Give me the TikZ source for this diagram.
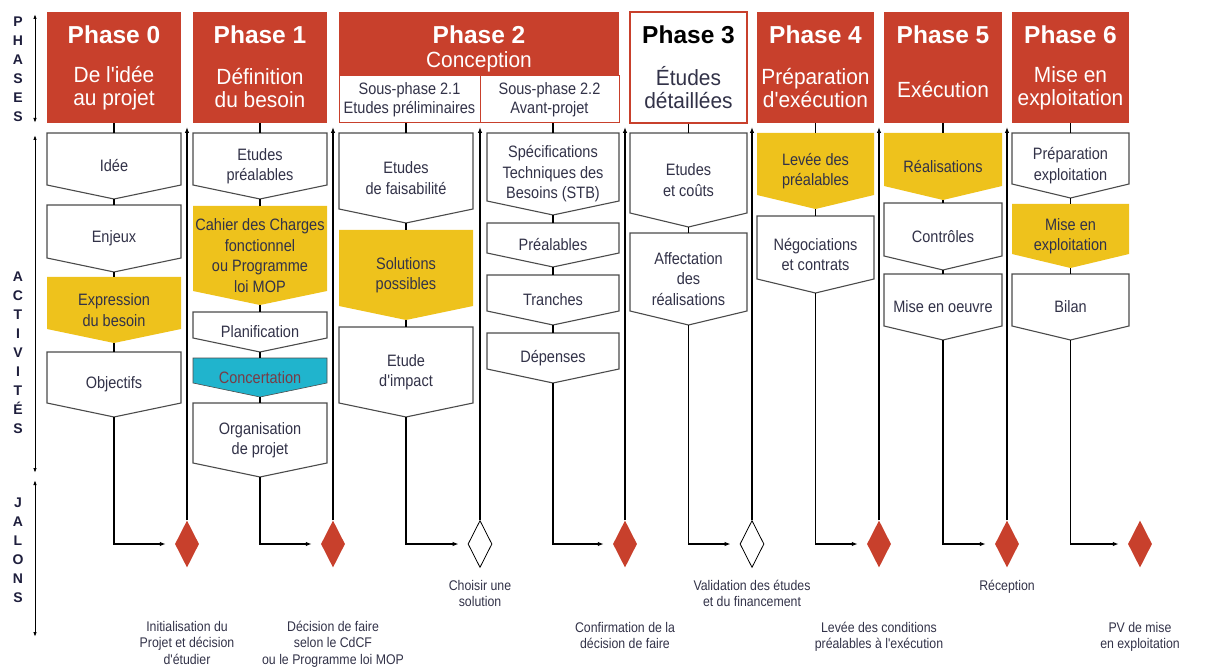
\documentclass[tikz,border=0pt]{standalone}
\usepackage{fontspec}
\setmainfont{Liberation Sans}
\newfontfamily\narrow[FakeStretch=0.88]{Liberation Sans}
\newfontfamily\headsub[FakeStretch=0.95]{Liberation Sans}
\usetikzlibrary{positioning,shapes.geometric,arrows.meta}
\definecolor{rouge}{RGB}{200,64,44}
\definecolor{jaune}{RGB}{238,194,28}
\definecolor{turquoise}{RGB}{32,180,205}
\definecolor{encre}{RGB}{50,50,72}
\definecolor{contour}{RGB}{75,75,75}
\definecolor{concert}{RGB}{120,60,70}
\definecolor{marine}{RGB}{30,30,60}

\begin{document}
\begin{tikzpicture}[x=1pt, y=1pt, >={Latex[length=6pt,width=4.5pt]},
    phasebox/.style={rectangle, fill=rouge, minimum height=111, inner sep=0},
    phtitle/.style={font=\bfseries\fontsize{24.5}{27}\selectfont, text=white, inner sep=0},
    phsub/.style={font=\headsub\fontsize{22}{23}\selectfont, text=white, align=center, inner sep=0},
    sousphase/.style={rectangle, draw=rouge, fill=white, line width=1pt, minimum height=47, inner sep=0,
                      align=center, font=\narrow\fontsize{16.5}{19}\selectfont, text=encre},
    boxblanc/.style={fill=white, draw=contour, line width=1.1pt},
    boxjaune/.style={fill=jaune},
    boxcyan/.style={fill=turquoise, draw=contour, line width=0.6pt},
    acttext/.style={rectangle, inner sep=0, align=center, font=\narrow\fontsize{16.5}{20.5}\selectfont, text=encre},
    link/.style={draw=black, line width=1.2pt},
    jalon/.style={diamond, minimum width=24, minimum height=47, inner sep=0},
    jalonplein/.style={jalon, fill=rouge},
    jalonvide/.style={jalon, fill=white, draw=black, line width=0.8pt},
    jaltext/.style={inner sep=0, align=center, font=\narrow\fontsize{14}{16.5}\selectfont, text=encre},
    axetext/.style={inner sep=0, align=center, font=\bfseries\fontsize{14}{19}\selectfont, text=marine},
    axe/.style={line width=1pt, <->, >={Latex[length=5pt,width=3.5pt]}}]
    \useasboundingbox (0,0) rectangle (1221,-668);

    % en-tetes des phases
    \foreach \i/\cx/\ww/\dy/\sub in {0/114/134/76.5/{De l'idée\\au projet},
                                     1/260/134/76.5/{Définition\\du besoin},
                                     4/815.5/117/76.5/{Préparation\\d'exécution},
                                     5/943/118/78/{Exécution},
                                     6/1070.5/117/76.5/{Mise en\\exploitation}}{
      \node[phasebox, minimum width=\ww] (h\i) at (\cx,-67.5) {};
      \node[phtitle] (h\i-t) at ([yshift=-23pt]h\i.north) {Phase \i};
      \node[phsub] (h\i-s) at ([yshift={-\dy}]h\i.north) {\sub};
    }
    \node[phasebox, minimum width=280, minimum height=64] (h2) at (479,-44) {};
    \node[phtitle] (h2-t) at ([yshift=-23pt]h2.north) {Phase 2};
    \node[phsub] (h2-s) at ([yshift=-50pt]h2.north) {Conception};
    \node[sousphase, minimum width=141] (sp1) at (409.5,-99.5) {Sous-phase 2.1\\Etudes préliminaires};
    \node[sousphase, minimum width=139] (sp2) at (549.5,-99.5) {Sous-phase 2.2\\Avant-projet};
    \node[phasebox, fill=white, draw=rouge, line width=1.2pt, minimum width=117] (h3) at (688.5,-67.5) {};
    \node[phtitle, text=black] (h3-t) at ([yshift=-23pt]h3.north) {Phase 3};
    \node[phsub, text=encre] (h3-s) at ([yshift=-76.5pt]h3.north) {Études\\détaillées};

    % activites
    \foreach \nm/\cx/\ww/\tp/\bt/\st/\txt in {
        p0a/114/134/133/199/boxblanc/{Idée},
        p0b/114/134/205/272/boxblanc/{Enjeux},
        p0c/114/134/277/343/boxjaune/{Expression\\du besoin},
        p0d/114/134/352/417/boxblanc/{Objectifs},
        p1a/260/134/133/199/boxblanc/{Etudes\\préalables},
        p1b/260/134/206/305/boxjaune/{Cahier des Charges\\fonctionnel\\ou Programme\\loi MOP},
        p1c/260/134/312/352/boxblanc/{Planification},
        p1d/260/134/358/397/boxcyan/{\textcolor{concert}{Concertation}},
        p1e/260/134/403/477/boxblanc/{Organisation\\de projet},
        p2a/406/134/133/223/boxblanc/{Etudes\\de faisabilité},
        p2b/406/134/230/320/boxjaune/{Solutions\\possibles},
        p2c/406/134/327/417/boxblanc/{Etude\\d'impact},
        p2d/553/132/133/215/boxblanc/{Spécifications\\Techniques des\\Besoins (STB)},
        p2e/553/132/223/267/boxblanc/{Préalables},
        p2f/553/132/275/325/boxblanc/{Tranches},
        p2g/553/132/333/383/boxblanc/{Dépenses},
        p3a/688.5/117/133/227/boxblanc/{Etudes\\et coûts},
        p3b/688.5/117/233/325/boxblanc/{Affectation\\des\\réalisations},
        p4a/815.5/117/133/209/boxjaune/{Levée des\\préalables},
        p4b/815.5/117/216/293/boxblanc/{Négociations\\et contrats},
        p5a/943/118/133/200/boxjaune/{Réalisations},
        p5b/943/118/203/270/boxblanc/{Contrôles},
        p5c/943/118/274/340/boxblanc/{Mise en oeuvre},
        p6a/1070.5/117/133/198/boxblanc/{Préparation\\exploitation},
        p6b/1070.5/117/204/268/boxjaune/{Mise en\\exploitation},
        p6c/1070.5/117/274/340/boxblanc/{Bilan}}{
      \path[\st] ({\cx-\ww/2},-\tp) -- ({\cx+\ww/2},-\tp) -- ({\cx+\ww/2},{14-\bt})
                 -- (\cx,-\bt) -- ({\cx-\ww/2},{14-\bt}) -- cycle;
      \node[acttext, minimum width=\ww, minimum height={\bt-\tp}] (\nm) at (\cx,{-(\tp+\bt)/2}) {\txt};
    }
    \foreach \a/\b in {h0/p0a,p0a/p0b,p0b/p0c,p0c/p0d,
                       h1/p1a,p1a/p1b,p1b/p1c,p1c/p1d,p1d/p1e,
                       sp1/p2a,p2a/p2b,p2b/p2c,
                       sp2/p2d,p2d/p2e,p2e/p2f,p2f/p2g,
                       h3/p3a,p3a/p3b, h4/p4a,p4a/p4b,
                       h5/p5a,p5a/p5b,p5b/p5c, h6/p6a,p6a/p6b,p6b/p6c}
      \draw[link] (\b.north |- \a.south) -- (\b.north);

    % jalons
    \node[jalonplein] (d0) at (187,-544) {};
    \node[jalonplein] (d1) at (333,-544) {};
    \node[jalonvide]  (d2) at (480,-544) {};
    \node[jalonplein] (d3) at (625,-544) {};
    \node[jalonvide]  (d4) at (752,-544) {};
    \node[jalonplein] (d5) at (879,-544) {};
    \node[jalonplein] (d6) at (1007,-544) {};
    \node[jalonplein] (d7) at (1140,-544) {};
    \foreach \k/\cx in {0/187,1/333,2/480,3/625,4/752,5/879,6/1007}
      \coordinate (top\k) at (\cx,-127);
    \foreach \k in {0,...,6}
      \draw[link,->] (d\k.north) -- (top\k);
    \foreach \a/\d in {p0d/d0,p1e/d1,p2c/d2,p2g/d3,p3b/d4,p4b/d5,p5c/d6,p6c/d7}
      \draw[link,->,shorten >=9pt] (\a.south) |- (\d.west);

    \node[jaltext, below=53pt of d0] (l0) {Initialisation du\\Projet et décision\\d'étudier};
    \node[jaltext, below=53pt of d1] (l1) {Décision de faire\\selon le CdCF\\ou le Programme loi MOP};
    \node[jaltext, below=12pt of d2] (l2) {Choisir une\\solution};
    \node[jaltext, below=54pt of d3] (l3) {Confirmation de la\\décision de faire};
    \node[jaltext, below=12pt of d4] (l4) {Validation des études\\et du financement};
    \node[jaltext, below=54pt of d5] (l5) {Levée des conditions\\préalables à l'exécution};
    \node[jaltext, below=12pt of d6] (l6) {Réception};
    \node[jaltext, below=54pt of d7] (l7) {PV de mise\\en exploitation};

    % axe de gauche
    \node[axetext] (axp) at (18,-69.5) {P\\H\\A\\S\\E\\S};
    \node[axetext] (axa) at (18,-353) {A\\C\\T\\I\\V\\I\\T\\É\\S};
    \node[axetext] (axj) at (18,-550.5) {J\\A\\L\\O\\N\\S};
    \coordinate (ax1) at (35,-14);
    \coordinate (ax2) at (35,-123);
    \coordinate (ax3) at (35,-135);
    \coordinate (ax4) at (35,-473);
    \coordinate (ax5) at (35,-480);
    \coordinate (ax6) at (35,-637);
    \draw[axe] (ax1) -- (ax2);
    \draw[axe] (ax3) -- (ax4);
    \draw[axe] (ax5) -- (ax6);
\end{tikzpicture}
\end{document}
